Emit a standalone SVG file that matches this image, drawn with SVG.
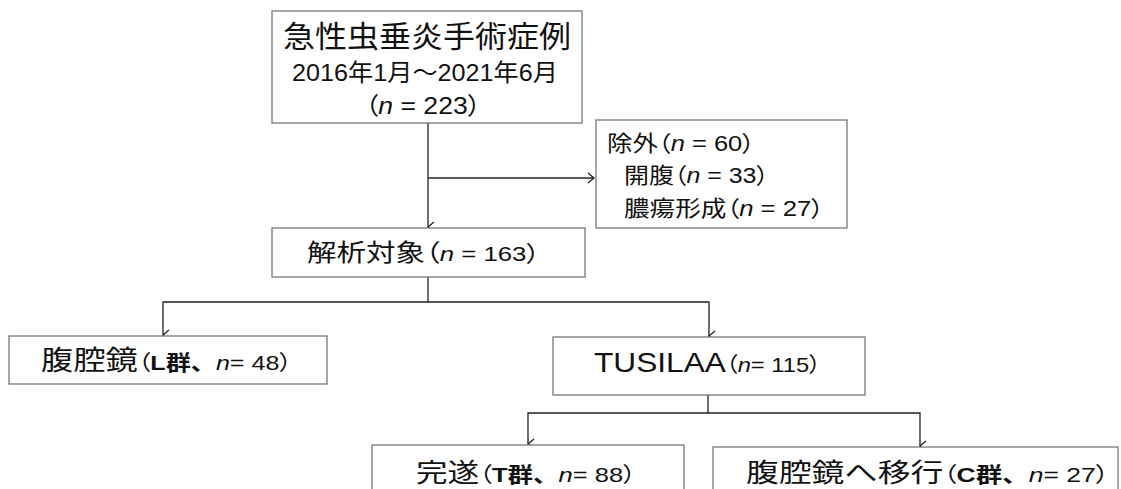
<svg xmlns="http://www.w3.org/2000/svg" width="1121" height="489" viewBox="0 0 1121 489">
<defs>
<style>
.box{fill:#fff;stroke:#777;stroke-width:1.3}
.ln{fill:none;stroke:#222;stroke-width:1.3}
text{font-family:"Liberation Sans","Noto Sans CJK JP",sans-serif;fill:#111}
.jp{font-family:"Noto Sans CJK JP",sans-serif}
.p{font-family:"Noto Sans CJK JP",sans-serif;font-feature-settings:"palt"}
.it{font-style:italic}
.b{font-weight:bold}
</style>
<marker id="ah" markerWidth="12" markerHeight="12" refX="6" refY="11" orient="auto" markerUnits="userSpaceOnUse" viewBox="0 0 12 12">
<polyline points="1,5 6,11 11,5" fill="none" stroke="#222" stroke-width="1.3"/>
</marker>
<marker id="ahr" markerWidth="12" markerHeight="12" refX="11" refY="6" markerUnits="userSpaceOnUse" viewBox="0 0 12 12">
<polyline points="5,1 11,6 5,11" fill="none" stroke="#222" stroke-width="1.3"/>
</marker>
</defs>
<rect width="1121" height="489" fill="#fff"/>
<g id="connectors">
<line class="ln" x1="428" y1="123" x2="428" y2="227" marker-end="url(#ah)"/>
<line class="ln" x1="428" y1="178" x2="594" y2="178" marker-end="url(#ahr)"/>
<polyline class="ln" points="428,277 428,302 709,302 709,336" marker-end="url(#ah)"/>
<polyline class="ln" points="428,302 163,302 163,335" marker-end="url(#ah)"/>
<polyline class="ln" points="708,395 708,413 920,413 920,446" marker-end="url(#ah)"/>
<polyline class="ln" points="708,413 528,413 528,444" marker-end="url(#ah)"/>
</g>
<g id="n-cases">
<rect class="box" x="272" y="11" width="310" height="112"/>
<text x="283" y="47" class="jp" font-size="30" textLength="288" lengthAdjust="spacingAndGlyphs">急性虫垂炎手術症例</text>
<text x="292" y="81" font-size="24" textLength="266" lengthAdjust="spacingAndGlyphs">2016<tspan class="jp">年</tspan>1<tspan class="jp">月～</tspan>2021<tspan class="jp">年</tspan>6<tspan class="jp">月</tspan></text>
<text x="365" y="114" font-size="24" textLength="116" lengthAdjust="spacingAndGlyphs"><tspan class="p">（</tspan><tspan class="it">n</tspan> = 223<tspan class="p">）</tspan></text>
</g>
<g id="n-exclude">
<rect class="box" x="596" y="120" width="251" height="108"/>
<text x="607" y="151" font-size="22" textLength="148" lengthAdjust="spacingAndGlyphs"><tspan class="p">除外（</tspan><tspan class="it">n</tspan> = 60<tspan class="p">）</tspan></text>
<text x="624" y="183" font-size="22" textLength="145" lengthAdjust="spacingAndGlyphs"><tspan class="p">開腹（</tspan><tspan class="it">n</tspan> = 33<tspan class="p">）</tspan></text>
<text x="624" y="216" font-size="22" textLength="200" lengthAdjust="spacingAndGlyphs"><tspan class="p">膿瘍形成（</tspan><tspan class="it">n</tspan> = 27<tspan class="p">）</tspan></text>
</g>
<g id="n-analysis">
<rect class="box" x="272" y="228" width="313" height="49"/>
<text x="307" y="261" font-size="24" textLength="233" lengthAdjust="spacingAndGlyphs"><tspan class="p">解析対象（</tspan><tspan class="it" font-size="21">n</tspan><tspan font-size="21"> = 163</tspan><tspan class="p" font-size="22">）</tspan></text>
</g>
<g id="n-lap">
<rect class="box" x="9" y="336" width="318" height="48"/>
<text x="41" y="370" font-size="27" textLength="251" lengthAdjust="spacingAndGlyphs"><tspan class="p">腹腔鏡</tspan><tspan class="p" font-size="21">（</tspan><tspan class="b" font-size="21">L</tspan><tspan class="jp b" font-size="21">群、</tspan><tspan class="it" font-size="21">n</tspan><tspan font-size="21">= 48</tspan><tspan class="p" font-size="21">）</tspan></text>
</g>
<g id="n-tusilaa">
<rect class="box" x="553" y="337" width="312" height="58"/>
<text x="594" y="372" font-size="28" textLength="227" lengthAdjust="spacingAndGlyphs">TUSILAA<tspan class="p" font-size="21">（</tspan><tspan class="it" font-size="21">n</tspan><tspan font-size="21">= 115</tspan><tspan class="p" font-size="21">）</tspan></text>
</g>
<g id="n-complete">
<rect class="box" x="372" y="445" width="312" height="60"/>
<text x="416" y="482" font-size="26" textLength="220" lengthAdjust="spacingAndGlyphs"><tspan class="p">完遂</tspan><tspan class="p" font-size="21">（</tspan><tspan class="b" font-size="21">T</tspan><tspan class="jp b" font-size="21">群、</tspan><tspan class="it" font-size="21">n</tspan><tspan font-size="21">= 88</tspan><tspan class="p" font-size="21">）</tspan></text>
</g>
<g id="n-convert">
<rect class="box" x="713" y="447" width="405" height="60"/>
<text x="746" y="482" font-size="26" textLength="363" lengthAdjust="spacingAndGlyphs"><tspan class="p">腹腔鏡へ移行</tspan><tspan class="p" font-size="21">（</tspan><tspan class="b" font-size="21">C</tspan><tspan class="jp b" font-size="21">群、</tspan><tspan class="it" font-size="21">n</tspan><tspan font-size="21">= 27</tspan><tspan class="p" font-size="21">）</tspan></text>
</g>
</svg>
